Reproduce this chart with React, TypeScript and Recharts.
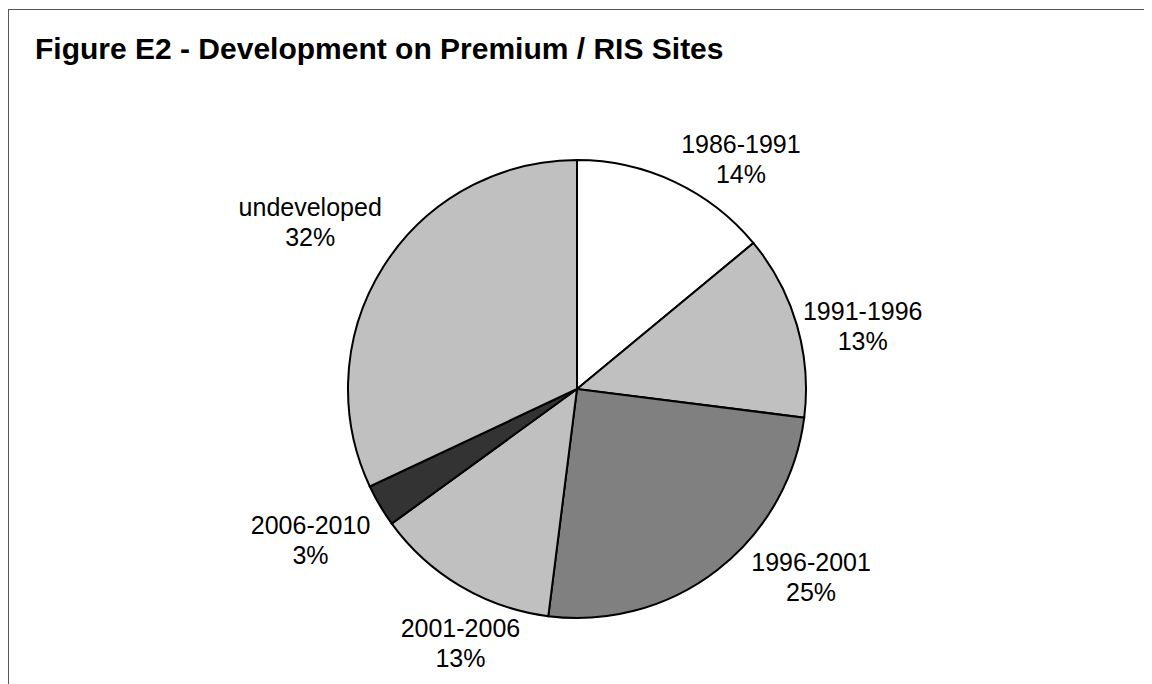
import { PieChart, Pie, Cell } from 'recharts';

const periods = ['1986-1991', '1991-1996', '1996-2001', '2001-2006', '2006-2010', 'undeveloped'];
const shares = [14, 13, 25, 13, 3, 32];

const sliceColors = ['#ffffff', '#c0c0c0', '#808080', '#c0c0c0', '#333333', '#c0c0c0'];
// nudges for the Excel-style "best fit" label placement
const labelNudge = [
  [43, 27],
  [13, 16],
  [60, -36],
  [28, 10],
  [-22, 6],
  [-27, -15],
];

const data = periods.map((name, i) => ({ name, value: shares[i] }));

const RAD = Math.PI / 180;

const renderLabel = (props: any) => {
  const { cx, cy, midAngle, outerRadius, index, name, percent } = props;
  const r = outerRadius + 55;
  const x = cx + r * Math.cos(-midAngle * RAD) + labelNudge[index][0];
  const y = cy + r * Math.sin(-midAngle * RAD) + labelNudge[index][1];
  return (
    <text
      x={x}
      y={y}
      textAnchor="middle"
      fill="#000"
      fontSize={25}
      fontFamily="Arial, 'Liberation Sans', sans-serif"
    >
      <tspan x={x} dy={-6}>{name}</tspan>
      <tspan x={x} dy={30}>{`${Math.round(percent * 100)}%`}</tspan>
    </text>
  );
};

export default function App() {
  return (
    <>
      <style>{'html, body { overflow: hidden; }'}</style>
      <div
        style={{
          position: 'relative',
          width: 1300,
          height: 700,
          marginTop: 1,
          borderTop: '1px solid #555',
          borderLeft: '1px solid #555',
          fontFamily: "Arial, 'Liberation Sans', sans-serif",
        }}
      >
        <div
          style={{
            position: 'absolute',
            left: 26,
            top: 24,
            fontSize: 30,
            lineHeight: '30px',
            fontWeight: 'bold',
            color: '#000',
            whiteSpace: 'nowrap',
          }}
        >
          Figure E2 - Development on Premium / RIS Sites
        </div>
        <PieChart width={1100} height={674} margin={{ top: 0, right: 0, bottom: 0, left: 0 }}>
          <Pie
            data={data}
            dataKey="value"
            nameKey="name"
            cx={568}
            cy={379}
            outerRadius={229}
            startAngle={90}
            endAngle={-270}
            stroke="#000"
            strokeWidth={2}
            label={renderLabel}
            labelLine={false}
            isAnimationActive={false}
          >
            {data.map((d, i) => (
              <Cell key={d.name} fill={sliceColors[i]} />
            ))}
          </Pie>
        </PieChart>
      </div>
    </>
  );
}
